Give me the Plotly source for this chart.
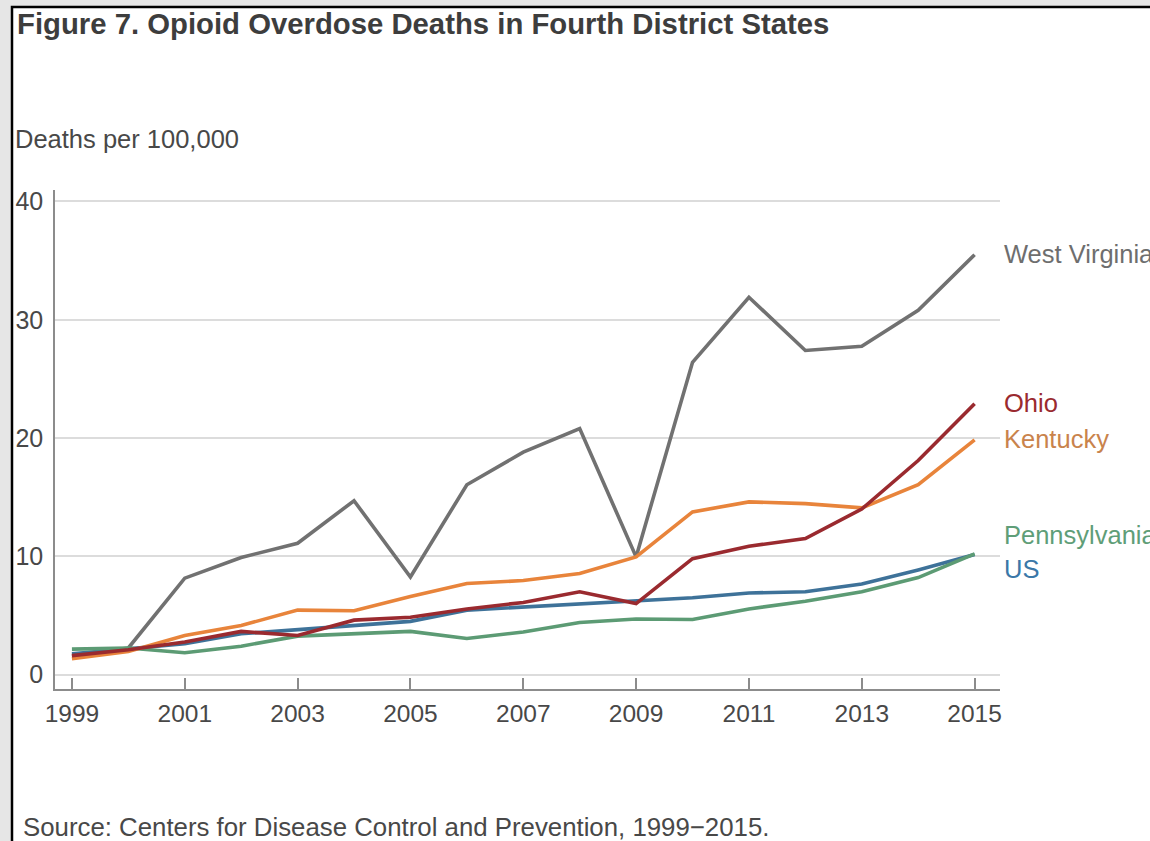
import plotly.graph_objects as go

years = list(range(1999, 2016))
west_virginia = [1.55, 2.25, 8.15, 9.9, 11.1, 14.7, 8.25, 16.05, 18.8, 20.8, 9.95, 26.4, 31.9, 27.4, 27.75, 30.8, 35.5]
ohio = [1.6, 2.1, 2.75, 3.65, 3.3, 4.6, 4.85, 5.55, 6.1, 7.0, 6.0, 9.8, 10.85, 11.5, 14.0, 18.1, 22.9]
kentucky = [1.35, 1.95, 3.3, 4.15, 5.45, 5.4, 6.6, 7.7, 7.95, 8.55, 9.95, 13.75, 14.6, 14.45, 14.1, 16.05, 19.85]
pennsylvania = [2.15, 2.25, 1.85, 2.4, 3.25, 3.45, 3.65, 3.05, 3.6, 4.4, 4.7, 4.65, 5.55, 6.2, 7.0, 8.2, 10.2]
us = [1.75, 2.2, 2.6, 3.45, 3.8, 4.15, 4.5, 5.45, 5.7, 5.95, 6.25, 6.5, 6.9, 7.0, 7.65, 8.85, 10.15]

tick_years = list(range(1999, 2016, 2))
y_ticks = [0, 10, 20, 30, 40]

title_text = "Figure 7. Opioid Overdose Deaths in Fourth District States"
ylabel_text = "Deaths per 100,000"
source_text = "Source: Centers for Disease Control and Prevention, 1999\u22122015."

series = [
    ("West Virginia", west_virginia, "#717171", "#6e6e6e"),
    ("US", us, "#3e7299", "#3b78a8"),
    ("Pennsylvania", pennsylvania, "#5c9b74", "#5f9e78"),
    ("Kentucky", kentucky, "#e8843b", "#c9834c"),
    ("Ohio", ohio, "#9a2a2f", "#9a2a2f"),
]
label_y = {"West Virginia": 35.6, "Ohio": 22.95, "Kentucky": 19.95, "Pennsylvania": 11.8, "US": 8.95}

W, H = 1150, 841
L, R, T, B = 55, 150, 190, 152
PW, PH = W - L - R, H - T - B

def px(x):
    return (x - L) / PW

def py(y):
    return (H - B - y) / PH

FONT = "Liberation Sans, Arial, sans-serif"

fig = go.Figure()
for name, vals, color, _ in series:
    fig.add_trace(go.Scatter(x=years, y=vals, mode="lines", name=name,
                             line=dict(color=color, width=3.6), showlegend=False))

annotations = []
for name, vals, color, lcolor in series:
    annotations.append(dict(x=px(1002), xref="paper", y=label_y[name], yref="y",
                            text=name, showarrow=False, xanchor="left", yanchor="middle",
                            font=dict(family=FONT, size=25.5, color=lcolor)))

annotations.append(dict(x=px(15), xref="paper", y=py(24), yref="paper", text="<b>" + title_text + "</b>",
                        showarrow=False, xanchor="left", yanchor="middle",
                        font=dict(family=FONT, size=29.3, color="#3d3d3d")))
annotations.append(dict(x=px(13), xref="paper", y=py(139), yref="paper", text=ylabel_text,
                        showarrow=False, xanchor="left", yanchor="middle",
                        font=dict(family=FONT, size=25.5, color="#484848")))
annotations.append(dict(x=px(21), xref="paper", y=py(827), yref="paper", text=source_text,
                        showarrow=False, xanchor="left", yanchor="middle",
                        font=dict(family=FONT, size=25.8, color="#484848")))

fig.update_layout(
    width=W, height=H,
    margin=dict(l=L, r=R, t=T, b=B),
    paper_bgcolor="#e6e6e6",
    plot_bgcolor="rgba(0,0,0,0)",
    annotations=annotations,
    shapes=[dict(type="rect", xref="paper", yref="paper",
                 x0=px(12), x1=px(1300), y0=py(1000), y1=py(7),
                 fillcolor="white", line=dict(color="black", width=2.5), layer="below")],
    xaxis=dict(range=[1998.7, 2015.45], tickvals=tick_years, ticktext=[str(t) for t in tick_years],
               showgrid=False, zeroline=False, showline=True, linecolor="#8c8c8c", linewidth=2,
               ticks="inside", ticklen=11, tickwidth=1.5, tickcolor="#8c8c8c",
               tickfont=dict(family=FONT, size=24.5, color="#484848"), ticklabelstandoff=2),
    yaxis=dict(range=[-1.22, 40.97], tickvals=y_ticks, showgrid=True, gridcolor="#dcdcdc", gridwidth=1.5,
               zeroline=False, showline=True, linecolor="#8c8c8c", linewidth=1.5, ticks="",
               tickfont=dict(family=FONT, size=25, color="#484848"), ticklabelstandoff=5),
)

fig.write_html("out.html", config={"displayModeBar": False},
               post_script="document.body.style.margin='0';document.body.style.overflow='hidden';"
                           "document.documentElement.style.overflow='hidden';")
